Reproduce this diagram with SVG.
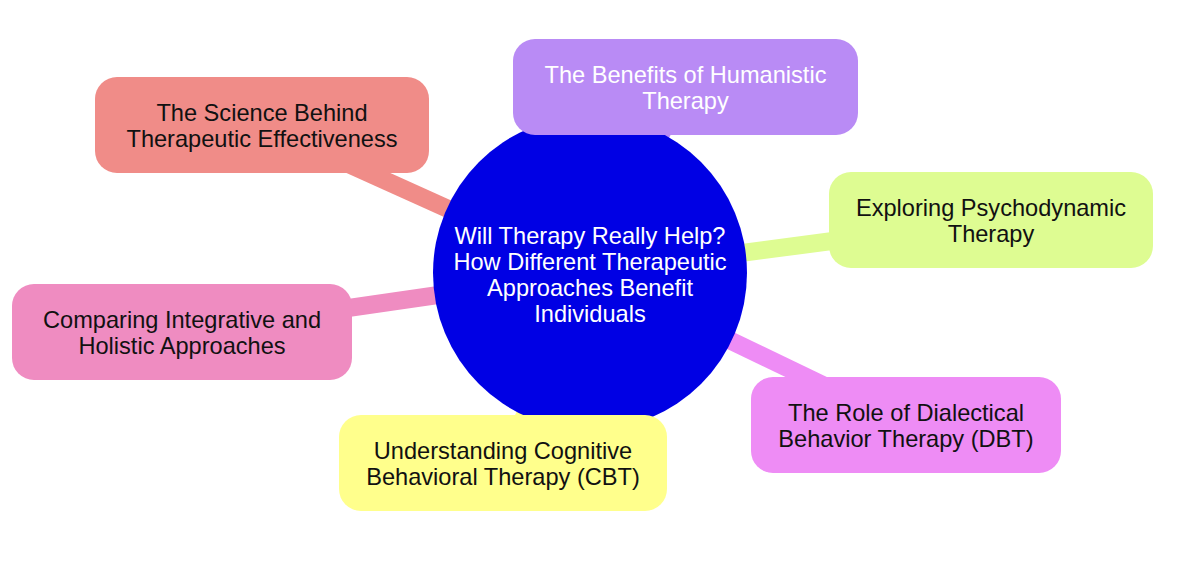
<svg xmlns="http://www.w3.org/2000/svg" width="1200" height="571" viewBox="0 0 1200 571">
<style>
.edge{stroke-width:18;stroke-linecap:butt;fill:none}
.box{rx:22;ry:22}
.t{font-family:"Liberation Sans",Arial,sans-serif;font-size:23.6px;text-anchor:middle;fill:#111}
.w{fill:#ffffff}
</style>
<rect width="1200" height="571" fill="#ffffff"/>
<g id="connectors">
<line class="edge" x1="590" y1="273" x2="262" y2="125" stroke="#F08C88"/>
<line class="edge" x1="590" y1="273" x2="685" y2="87" stroke="#B98BF5"/>
<line class="edge" x1="590" y1="273" x2="991" y2="220" stroke="#DEFC92"/>
<line class="edge" x1="590" y1="273" x2="182" y2="332" stroke="#EF8CC1"/>
<line class="edge" x1="590" y1="273" x2="503" y2="463" stroke="#FFFF8C"/>
<line class="edge" x1="590" y1="273" x2="906" y2="425" stroke="#EE8CF5"/>
</g>
<g id="root">
<circle cx="590" cy="273" r="157" fill="#0000E4"/>
<text class="t w"><tspan x="590" y="244">Will Therapy Really Help?</tspan><tspan x="590" y="270">How Different Therapeutic</tspan><tspan x="590" y="296">Approaches Benefit</tspan><tspan x="590" y="322">Individuals</tspan></text>
</g>
<g id="node-science">
<rect class="box" x="95" y="77" width="334" height="96" fill="#F08C88"/>
<text class="t"><tspan x="262" y="121">The Science Behind</tspan><tspan x="262" y="147">Therapeutic Effectiveness</tspan></text>
</g>
<g id="node-humanistic">
<rect class="box" x="513" y="39" width="345" height="96" fill="#B98BF5"/>
<text class="t w"><tspan x="685.5" y="83">The Benefits of Humanistic</tspan><tspan x="685.5" y="109">Therapy</tspan></text>
</g>
<g id="node-psychodynamic">
<rect class="box" x="829" y="172" width="324" height="96" fill="#DEFC92"/>
<text class="t"><tspan x="991" y="216">Exploring Psychodynamic</tspan><tspan x="991" y="242">Therapy</tspan></text>
</g>
<g id="node-integrative">
<rect class="box" x="12" y="284" width="340" height="96" fill="#EF8CC1"/>
<text class="t"><tspan x="182" y="328">Comparing Integrative and</tspan><tspan x="182" y="354">Holistic Approaches</tspan></text>
</g>
<g id="node-cbt">
<rect class="box" x="339" y="415" width="328" height="96" fill="#FFFF8C"/>
<text class="t"><tspan x="503" y="459">Understanding Cognitive</tspan><tspan x="503" y="485">Behavioral Therapy (CBT)</tspan></text>
</g>
<g id="node-dbt">
<rect class="box" x="751" y="377" width="310" height="96" fill="#EE8CF5"/>
<text class="t"><tspan x="906" y="421">The Role of Dialectical</tspan><tspan x="906" y="447">Behavior Therapy (DBT)</tspan></text>
</g>
</svg>
